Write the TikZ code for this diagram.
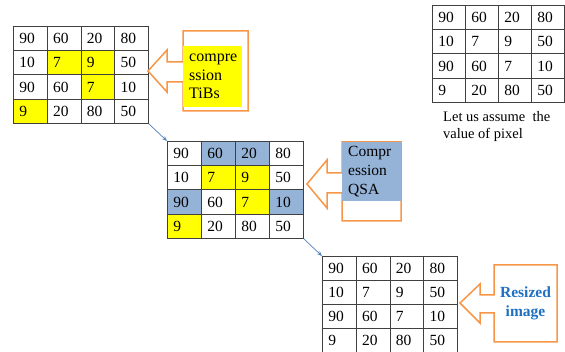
\documentclass[tikz,border=0pt]{standalone}
\usepackage{fontspec}
\setmainfont{Liberation Serif}
\usetikzlibrary{arrows.meta}
\definecolor{qsa}{RGB}{149,179,215}
\definecolor{tibs}{RGB}{255,255,0}
\definecolor{callout}{RGB}{247,150,70}
\definecolor{link}{RGB}{79,129,189}
\definecolor{resz}{RGB}{31,112,192}
\newcommand\pixgrid[6]{%
  \pgfmathsetmacro\tw{#4-12}%
  \foreach \val/\fc [count=\k from 0] in {#6} {%
    \pgfmathtruncatemacro\r{int(\k/4)}%
    \pgfmathtruncatemacro\c{mod(\k,4)}%
    \node[cell, fill=\fc, minimum width=#4pt, minimum height=#5pt, text width=\tw pt]
      (#1-\r-\c) at ({#2+\c*#4},{#3+\r*#5}) {\val};
  }%
}
\begin{document}
\begin{tikzpicture}[x=1pt,y=-1pt,
  cell/.style={draw=black!75, line width=0.9pt, anchor=north west, inner xsep=6pt, inner ysep=0pt,
    align=left, font=\fontsize{15.5}{17}\selectfont},
  callbox/.style={draw=callout, line width=1.5pt, line join=miter},
  calltext/.style={anchor=west, inner sep=0pt, align=left},
  linkarrow/.style={draw=link, line width=0.7pt, -{Stealth[length=5pt,width=4pt,open]}}]
\useasboundingbox (0,0) rectangle (565,352);

% grid 1 (TiBs)
\pixgrid{g1}{13}{26}{33.75}{24.25}{90/white,60/white,20/white,80/white,
  10/white,7/tibs,9/tibs,50/white,
  90/white,60/white,7/tibs,10/white,
  9/tibs,20/white,80/white,50/white}
% grid 2 (QSA)
\pixgrid{g2}{167}{141}{34}{24.25}{90/white,60/qsa,20/qsa,80/white,
  10/white,7/tibs,9/tibs,50/white,
  90/qsa,60/white,7/tibs,10/qsa,
  9/tibs,20/white,80/white,50/white}
% grid 3 (resized)
\pixgrid{g3}{322}{256}{33.75}{24}{90/white,60/white,20/white,80/white,
  10/white,7/white,9/white,50/white,
  90/white,60/white,7/white,10/white,
  9/white,20/white,80/white,50/white}
% grid 4 (original)
\pixgrid{g4}{432}{5}{33}{24.25}{90/white,60/white,20/white,80/white,
  10/white,7/white,9/white,50/white,
  90/white,60/white,7/white,10/white,
  9/white,20/white,80/white,50/white}

\node[anchor=west, inner sep=0pt, align=left, font=\fontsize{14.5}{17}\selectfont]
  (note) at (443,126.5) {Let us assume \ the\\value of pixel};

% callout 1
\draw[callbox] (183,62) -- (183,31) -- (248,31) -- (248,111) -- (183,111) -- (183,82)
  -- (167,82) -- (167,92) -- (148,71) -- (167,50) -- (167,62) -- cycle;
\fill[tibs] (183,46) rectangle (242,107);
\node[calltext, font=\fontsize{16}{18.5}\selectfont] (c1) at (189,76.5) {compre\\ssion\\TiBs};

% callout 2
\draw[callbox] (342,173) -- (342,142) -- (401,142) -- (401,221) -- (342,221) -- (342,193)
  -- (327,193) -- (327,208) -- (307,184) -- (327,160) -- (327,173) -- cycle;
\fill[qsa] (342,142) rectangle (401,201);
\node[calltext, font=\fontsize{15.5}{19}\selectfont] (c2) at (348,172) {Compr\\ession\\QSA};

% callout 3
\draw[callbox] (494,295) -- (494,265) -- (557,265) -- (557,342) -- (494,342) -- (494,313)
  -- (480,313) -- (480,323) -- (460,303) -- (480,284) -- (480,295) -- cycle;
\node[anchor=center, inner sep=0pt, align=center, text=resz,
  font=\bfseries\fontsize{15.5}{19}\selectfont] (c3) at (525.5,303.5) {Resized\\image};

% links
\draw[linkarrow] (g1-3-3.south east) -- (g2-0-0.north west);
\draw[linkarrow] (g2-3-3.south east) -- (g3-0-0.north west);
\end{tikzpicture}
\end{document}
